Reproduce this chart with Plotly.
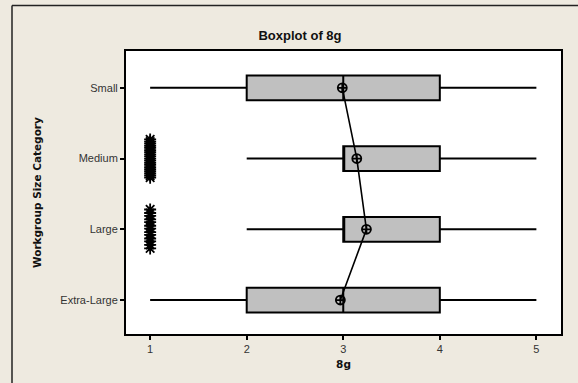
import plotly.graph_objects as go

# Workgroup size categories, bottom to top on the y axis
categories = ["Extra-Large", "Large", "Medium", "Small"]
positions = [0, 1, 2, 3]

# Five-number summaries of item 8g per category
q1 = [2, 3, 3, 2]
median = [3, 3, 3, 3]
q3 = [4, 4, 4, 4]
lower_whisker = [1, 2, 2, 1]
upper_whisker = [5, 5, 5, 5]

# Category means (connected by a line)
means = [2.97, 3.24, 3.14, 2.99]

# Outlier responses (value 1) with their vertical stacking offsets
medium_outlier_offsets = [-0.27, -0.24, -0.21, -0.18, -0.15, -0.12, -0.09, -0.06, -0.03,
                          0.0, 0.03, 0.06, 0.09, 0.12, 0.15, 0.18, 0.21, 0.24, 0.27]
large_outlier_offsets = [-0.27, -0.22, -0.17, -0.13, -0.08, -0.04, 0.01, 0.05,
                         0.1, 0.14, 0.19, 0.23, 0.28]
outlier_value = 1

BG = "#EEEAE0"
FONT = "Liberation Sans, Arial, sans-serif"
WIDE = "DejaVu Sans, Verdana, sans-serif"

fig = go.Figure()

fig.add_trace(go.Box(
    y=positions,
    q1=q1, median=median, q3=q3,
    lowerfence=lower_whisker, upperfence=upper_whisker,
    orientation="h",
    width=0.35,
    whiskerwidth=0,
    fillcolor="#C0C0C0",
    line=dict(color="black", width=2),
    boxpoints=False,
    showlegend=False,
    hoverinfo="skip",
))

# Outlier stacks at value 1
out_y = [2 + d for d in medium_outlier_offsets] + [1 + d for d in large_outlier_offsets]
out_x = [outlier_value] * len(out_y)
fig.add_trace(go.Scatter(
    x=out_x, y=out_y, mode="markers",
    marker=dict(symbol="asterisk-open", size=10, color="black",
                line=dict(color="black", width=1.8)),
    showlegend=False, hoverinfo="skip",
))

# Mean symbols joined by a connect line
fig.add_trace(go.Scatter(
    x=means, y=positions, mode="lines+markers",
    line=dict(color="black", width=1.6),
    marker=dict(symbol="circle-cross-open", size=9, color="black",
                line=dict(color="black", width=1.8)),
    showlegend=False, hoverinfo="skip",
))

W, H = 578, 383
L, R, T, B = 126, 561, 51, 334

fig.update_layout(
    width=W, height=H,
    margin=dict(l=L, r=W - R, t=T, b=H - B, pad=0),
    paper_bgcolor=BG,
    plot_bgcolor="white",
    font=dict(family=FONT, color="#222222", size=11),
    title=dict(text="<b>Boxplot of 8g</b>", font=dict(size=13, color="#111111", family=FONT),
               x=300 / W, xref="container", xanchor="center",
               y=1 - 35 / H, yref="container", yanchor="middle"),
)

fig.update_xaxes(
    range=[0.75, 5.255],
    tickvals=[1, 2, 3, 4, 5],
    ticks="outside", ticklen=4, tickwidth=2, tickcolor="black",
    showline=True, linecolor="black", linewidth=2, mirror=True,
    showgrid=False, zeroline=False,
    tickfont=dict(size=11, color="#333333"),
    title=dict(text="<b>8g</b>", font=dict(size=10.5, color="#111111", family=WIDE), standoff=6),
)

fig.update_yaxes(
    range=[-0.48, 3.52],
    tickvals=positions, ticktext=categories,
    ticks="outside", ticklen=4, tickwidth=2, tickcolor="black",
    showline=True, linecolor="black", linewidth=2, mirror=True,
    showgrid=False, zeroline=False,
    tickfont=dict(size=11, color="#333333"),
    title=None,
)

# Y axis title
fig.add_annotation(
    text="<b>Workgroup Size Category</b>", textangle=-90,
    xref="paper", yref="paper",
    x=(37 - L) / (R - L), y=(B - 193) / (B - T),
    xanchor="center", yanchor="middle", showarrow=False,
    font=dict(size=10.5, color="#111111", family=WIDE),
)

# Outer graph frame (top and left edges), kept inside the figure
fx0 = (12 - L) / (R - L)
fx1 = (W - L) / (R - L)
fy_top = (B - 5.5) / (B - T)
fy_bot = (B - H) / (B - T)
fig.add_shape(type="line", xref="paper", yref="paper",
              x0=fx0, x1=fx1, y0=fy_top, y1=fy_top,
              line=dict(color="#222222", width=1.5), layer="below")
fig.add_shape(type="line", xref="paper", yref="paper",
              x0=fx0, x1=fx0, y0=fy_top, y1=fy_bot,
              line=dict(color="#222222", width=1.5), layer="below")

fig.write_html("out.html")
